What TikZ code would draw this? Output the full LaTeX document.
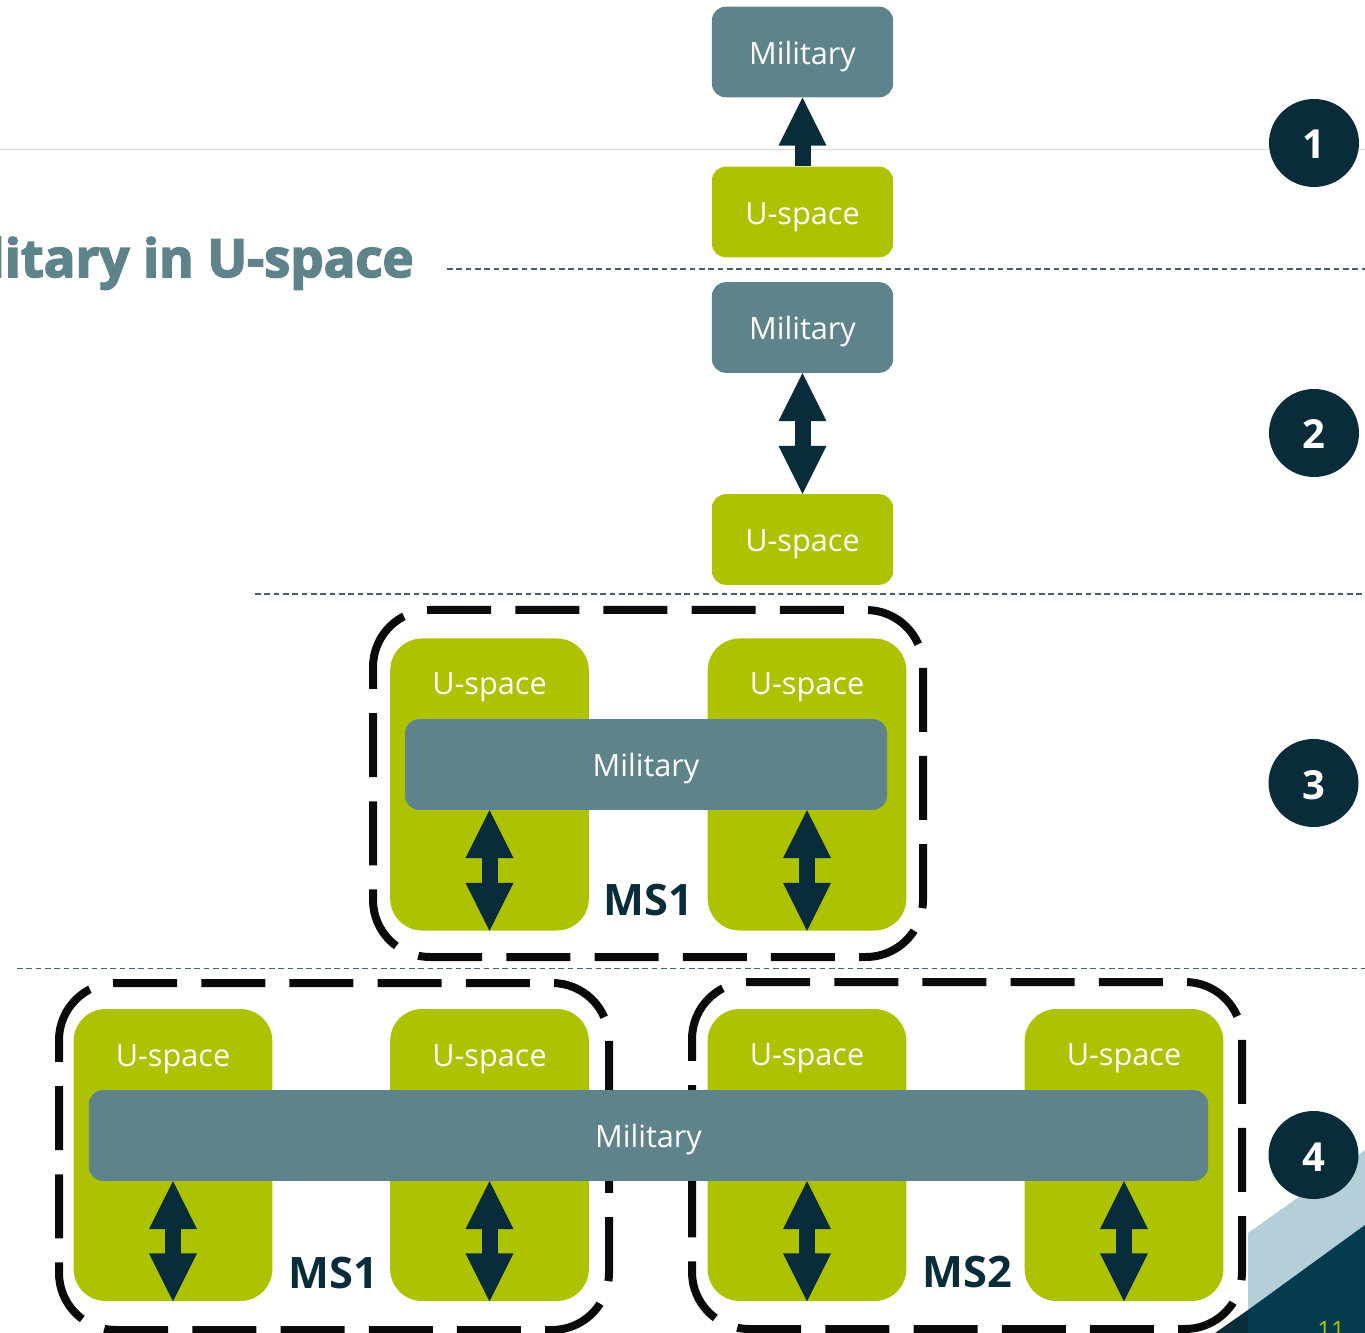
\documentclass[tikz,border=0pt]{standalone}
\usepackage{fontspec}
\setmainfont{Open Sans}
\newfontfamily\titlefont[BoldFeatures={FakeBold=3}]{Open Sans}
\usetikzlibrary{arrows.meta,calc,shapes.geometric}
\definecolor{gr}{HTML}{ADC200}
\definecolor{tl}{HTML}{5F838B}
\definecolor{dk}{HTML}{082C3A}
\definecolor{lb}{HTML}{B5CFD8}
\definecolor{db}{HTML}{053B4F}
\tikzset{
 box/.style={draw=none,inner sep=0pt,align=center,text=white,text height=18.4pt,text depth=0pt,font=\fontsize{23pt}{26pt}\selectfont},
 mil/.style={box,fill=tl,rounded corners=10.5pt,minimum height=68pt},
 usp/.style={box,fill=gr,rounded corners=10.5pt,minimum height=68pt,minimum width=136pt},
 tall/.style={box,fill=gr,rounded corners=24pt,minimum width=149pt,minimum height=219pt},
 lbl/.style={inner sep=0pt,text=white,text height=18.4pt,text depth=0pt,font=\fontsize{23pt}{26pt}\selectfont},
 ms/.style={inner sep=0pt,text=dk,font=\fontsize{32.5pt}{36pt}\selectfont\bfseries},
 num/.style={ellipse,fill=dk,minimum width=67.5pt,minimum height=66pt,inner sep=0pt,text=white,text height=24pt,text depth=0pt,font=\fontsize{30pt}{34pt}\selectfont\bfseries},
 sep/.style={draw=dk!75!white,line width=1pt,dash pattern=on 4.3pt off 2.7pt},
 frm/.style={draw=black!96,line width=6pt,dash pattern=on 48pt off 18.15pt,dash phase=1.2pt},
 upar/.style={draw=dk,line width=12pt,-{Triangle[length=36pt,width=36pt,line width=0pt]},preaction={draw=dk,line width=12pt,-,shorten >=24pt}},
 dbl/.style={draw=dk,line width=12pt,{Triangle[length=36pt,width=36pt,line width=0pt]}-{Triangle[length=36pt,width=36pt,line width=0pt]},preaction={draw=dk,line width=12pt,-,shorten >=24pt,shorten <=24pt}},
}
\newcommand{\frampath}[2]{\path[frm] (#1,#2+57) .. controls +(0,-31.5) and +(-31.5,0) .. ++(57,-57) -- ++(436,0) .. controls +(31.5,0) and +(0,-31.5) .. ++(57,57) -- ++(0,233) .. controls +(0,31.5) and +(31.5,0) .. ++(-57,57) -- ++(-436,0) .. controls +(-31.5,0) and +(0,31.5) .. ++(-57,-57) -- cycle;}
\begin{document}
\begin{tikzpicture}[x=0.75pt,y=-0.75pt]
\useasboundingbox (0,0) rectangle (1365,1333);
\begin{scope}
\clip (0,0) rectangle (1365,1333);
% footer corner
\fill[lb] (1248,1233) -- (1365,1150) -- (1365,1333) -- (1248,1333) -- cycle;
\fill[db] (1248,1310) -- (1365,1225) -- (1365,1333) -- (1248,1333) -- cycle;
\fill[dk] (1215,1333) -- (1248,1310) -- (1248,1333) -- cycle;
\node[anchor=base,inner sep=0pt,text=gr,font=\fontsize{18pt}{20pt}\selectfont] (pg) at (1331,1338) {11};
% separators
\coordinate (a1) at (0,149.5); \coordinate (a2) at (1365,149.5);
\draw[color=black!15,line width=0.75pt] (a1) -- (a2);
\coordinate (b1) at (447,269); \coordinate (b2) at (1368,269);
\draw[sep] (b1) -- (b2);
\coordinate (c1) at (255,594); \coordinate (c2) at (1368,594);
\draw[sep] (c1) -- (c2);
\coordinate (d1) at (17,968.5); \coordinate (d2) at (1368,968.5);
\draw[sep] (d1) -- (d2);
% title
\node[anchor=base east,inner sep=0pt,text=tl,font=\titlefont\fontsize{39.5pt}{44pt}\selectfont\bfseries] (title) at (414,277) {litary in U-space};
% level 1
\node[mil,minimum width=136pt] (m1) at (802.5,52) {Military};
\node[usp] (u1) at (802.5,212) {U-space};
\draw[upar] (u1.north) -- (m1.south);
% level 2
\node[mil,minimum width=136pt] (m2) at (802.5,327.5) {Military};
\node[usp] (u2) at (802.5,539.5) {U-space};
\draw[dbl] (m2.south) -- (u2.north);
% level 3
\frampath{373}{610}
\node[tall] (g3a) at (489.5,784.5) {};
\node[tall] (g3b) at (807,784.5) {};
\node[lbl] (l3a) at (489.5,682.5) {U-space};
\node[lbl] (l3b) at (807,682.5) {U-space};
\node[mil,minimum width=361.5pt] (m3) at (646,764.5) {Military};
\draw[dbl] (g3a |- m3.south) -- (g3a.south);
\draw[dbl] (g3b |- m3.south) -- (g3b.south);
\node[ms] (ms3) at (648,900.5) {MS1};
% level 4
\frampath{59}{983}
\frampath{692}{982}
\node[tall] (g4a) at (173,1155) {};
\node[tall] (g4b) at (489.5,1155) {};
\node[tall] (g4c) at (807,1155) {};
\node[tall] (g4d) at (1124,1155) {};
\node[lbl] (l4a) at (173,1054.5) {U-space};
\node[lbl] (l4b) at (489.5,1054.5) {U-space};
\node[lbl] (l4c) at (807,1053.5) {U-space};
\node[lbl] (l4d) at (1124,1053.5) {U-space};
\node[mil,minimum width=839.5pt] (m4) at (648.5,1135.5) {Military};
\draw[dbl] (g4a |- m4.south) -- (g4a.south);
\draw[dbl] (g4b |- m4.south) -- (g4b.south);
\draw[dbl] (g4c |- m4.south) -- (g4c.south);
\draw[dbl] (g4d |- m4.south) -- (g4d.south);
\node[ms] (ms4a) at (333,1273.5) {MS1};
\node[ms] (ms4b) at (967,1272.5) {MS2};
% numbers
\node[num] (n1) at (1314,143) {1};
\node[num] (n2) at (1314,433) {2};
\node[num] (n3) at (1313.5,783) {3};
\node[num] (n4) at (1313.5,1155) {4};
\end{scope}
\end{tikzpicture}
\end{document}
